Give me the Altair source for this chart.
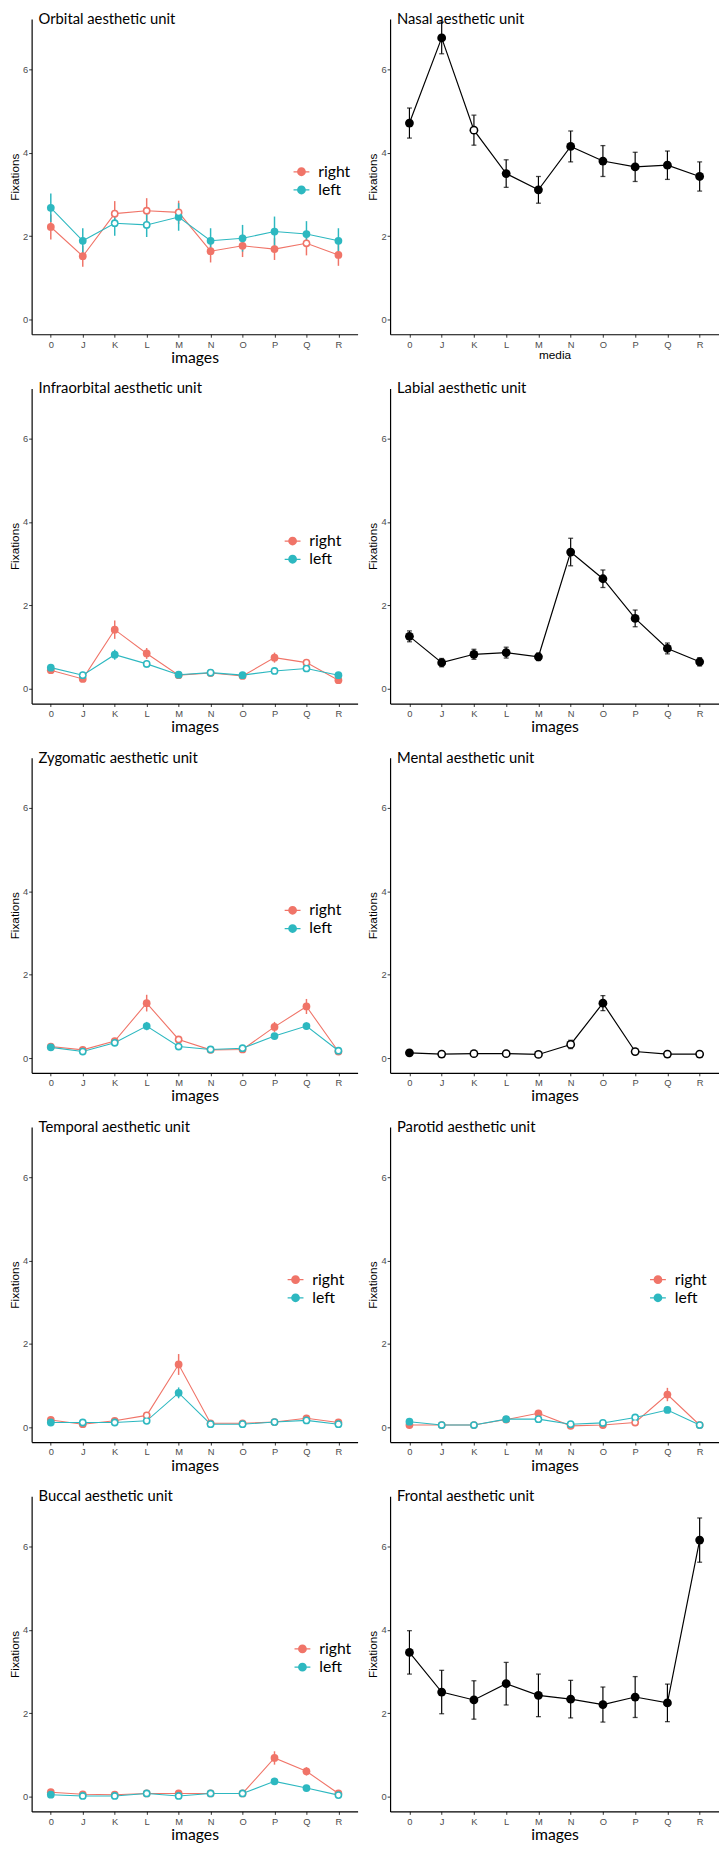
import altair as alt
import pandas as pd

IMAGES = ["0", "J", "K", "L", "M", "N", "O", "P", "Q", "R"]
SIDES = ["right", "left"]
SIDE_COLORS = ["#F07468", "#2DB8C0"]

ORB_R = [2.22, 1.52, 2.54, 2.61, 2.57, 1.64, 1.77, 1.69, 1.83, 1.55]
ORB_R_SE = [0.30, 0.25, 0.30, 0.30, 0.28, 0.27, 0.27, 0.26, 0.29, 0.26]
ORB_R_OPEN = [0, 0, 1, 1, 1, 0, 0, 0, 1, 0]
ORB_L = [2.68, 1.89, 2.31, 2.27, 2.46, 1.89, 1.95, 2.11, 2.05, 1.89]
ORB_L_SE = [0.34, 0.30, 0.30, 0.29, 0.33, 0.30, 0.32, 0.36, 0.31, 0.30]
ORB_L_OPEN = [0, 0, 1, 1, 0, 0, 0, 0, 0, 0]

INF_R = [0.45, 0.24, 1.42, 0.85, 0.33, 0.38, 0.31, 0.75, 0.63, 0.21]
INF_R_SE = [0.05, 0.04, 0.22, 0.13, 0.04, 0.04, 0.04, 0.12, 0.06, 0.04]
INF_R_OPEN = [0, 0, 0, 0, 0, 0, 0, 0, 1, 0]
INF_L = [0.51, 0.33, 0.82, 0.60, 0.34, 0.39, 0.33, 0.43, 0.49, 0.33]
INF_L_SE = [0.05, 0.08, 0.12, 0.09, 0.04, 0.05, 0.04, 0.05, 0.06, 0.05]
INF_L_OPEN = [0, 1, 0, 1, 0, 1, 0, 1, 1, 0]

ZYG_R = [0.28, 0.20, 0.41, 1.32, 0.45, 0.20, 0.21, 0.75, 1.24, 0.16]
ZYG_R_SE = [0.04, 0.03, 0.06, 0.20, 0.06, 0.03, 0.03, 0.12, 0.18, 0.03]
ZYG_R_OPEN = [0, 0, 0, 0, 1, 0, 0, 0, 0, 0]
ZYG_L = [0.26, 0.16, 0.37, 0.77, 0.28, 0.21, 0.24, 0.53, 0.77, 0.18]
ZYG_L_SE = [0.04, 0.03, 0.05, 0.10, 0.04, 0.03, 0.04, 0.07, 0.09, 0.03]
ZYG_L_OPEN = [0, 1, 1, 0, 1, 1, 1, 0, 0, 1]

TEM_R = [0.18, 0.08, 0.16, 0.29, 1.51, 0.10, 0.10, 0.13, 0.22, 0.12]
TEM_R_SE = [0.04, 0.02, 0.03, 0.05, 0.25, 0.02, 0.02, 0.03, 0.05, 0.02]
TEM_R_OPEN = [0, 0, 0, 1, 0, 0, 0, 0, 0, 0]
TEM_L = [0.12, 0.12, 0.12, 0.16, 0.83, 0.08, 0.08, 0.13, 0.17, 0.08]
TEM_L_SE = [0.03, 0.02, 0.02, 0.03, 0.13, 0.02, 0.02, 0.03, 0.03, 0.02]
TEM_L_OPEN = [0, 1, 1, 1, 0, 1, 1, 1, 1, 1]

BUC_R = [0.11, 0.06, 0.05, 0.08, 0.08, 0.08, 0.08, 0.93, 0.61, 0.08]
BUC_R_SE = [0.03, 0.02, 0.02, 0.02, 0.02, 0.02, 0.02, 0.16, 0.10, 0.02]
BUC_R_OPEN = [0, 0, 0, 0, 0, 0, 0, 0, 0, 0]
BUC_L = [0.05, 0.02, 0.02, 0.08, 0.02, 0.08, 0.08, 0.37, 0.21, 0.04]
BUC_L_SE = [0.02, 0.01, 0.01, 0.02, 0.01, 0.02, 0.02, 0.05, 0.04, 0.01]
BUC_L_OPEN = [0, 1, 1, 1, 1, 1, 1, 0, 0, 1]

PAR_R = [0.06, 0.06, 0.06, 0.19, 0.34, 0.04, 0.06, 0.12, 0.79, 0.06]
PAR_R_SE = [0.02, 0.02, 0.02, 0.04, 0.05, 0.02, 0.02, 0.03, 0.16, 0.02]
PAR_R_OPEN = [0, 0, 0, 0, 0, 0, 0, 1, 0, 0]
PAR_L = [0.14, 0.06, 0.06, 0.20, 0.20, 0.08, 0.11, 0.24, 0.42, 0.06]
PAR_L_SE = [0.03, 0.02, 0.02, 0.04, 0.04, 0.02, 0.03, 0.04, 0.06, 0.02]
PAR_L_OPEN = [0, 1, 1, 0, 1, 1, 1, 1, 0, 1]

NAS = [4.71, 6.75, 4.54, 3.50, 3.11, 4.15, 3.80, 3.66, 3.70, 3.43]
NAS_SE = [0.36, 0.38, 0.36, 0.33, 0.32, 0.37, 0.37, 0.35, 0.34, 0.35]
NAS_OPEN = [0, 0, 1, 0, 0, 0, 0, 0, 0, 0]

LAB = [1.26, 0.63, 0.83, 0.87, 0.77, 3.28, 2.64, 1.69, 0.97, 0.65]
LAB_SE = [0.13, 0.10, 0.12, 0.13, 0.09, 0.33, 0.21, 0.20, 0.13, 0.10]
LAB_OPEN = [0, 0, 0, 0, 0, 0, 0, 0, 0, 0]

MEN = [0.13, 0.10, 0.11, 0.11, 0.09, 0.33, 1.32, 0.16, 0.10, 0.10]
MEN_SE = [0.02, 0.01, 0.01, 0.01, 0.01, 0.10, 0.18, 0.02, 0.01, 0.01]
MEN_OPEN = [0, 1, 1, 1, 1, 1, 0, 1, 1, 1]

FRO = [3.46, 2.51, 2.32, 2.71, 2.43, 2.34, 2.21, 2.39, 2.25, 6.15]
FRO_SE = [0.52, 0.52, 0.46, 0.51, 0.51, 0.45, 0.42, 0.49, 0.45, 0.53]
FRO_OPEN = [0, 0, 0, 0, 0, 0, 0, 0, 0, 0]

LEFT_W = 331
RIGHT_W = 334
PANEL_H = 320
Y_DOMAIN = [-0.35, 7.2]

LEGEND_PATH = ("M-1.8,-0.14H1.8V0.14H-1.8Z "
               "M1,0A1,1,0,1,1,-1,0A1,1,0,1,1,1,0Z")


def frame(mean, se, opn, side="all"):
    return pd.DataFrame({
        "image": IMAGES,
        "mean": mean,
        "lo": [m - s for m, s in zip(mean, se)],
        "hi": [m + s for m, s in zip(mean, se)],
        "open": opn,
        "side": side,
    })


def x_enc(xtitle, big=True):
    return alt.X(
        "image:O",
        scale=alt.Scale(type="point", domain=IMAGES, padding=0.6),
        axis=alt.Axis(
            title=xtitle, labelAngle=0, labelPadding=2, titlePadding=1,
            titleFont="Lato" if big else "Liberation Sans",
            titleFontSize=16 if big else 12,
            titleFontWeight="normal", titleColor="black",
        ),
    )


Y_AXIS = alt.Axis(title="Fixations", values=[0, 2, 4, 6], titleFont="Liberation Sans",
                  titleFontSize=12, titleFontWeight="normal", titleColor="black",
                  titlePadding=1, labelPadding=1)


def y_enc(field="mean"):
    return alt.Y(f"{field}:Q", scale=alt.Scale(domain=Y_DOMAIN, nice=False, zero=False),
                 axis=Y_AXIS)


def title_layer(text):
    return alt.Chart(pd.DataFrame({"t": [text]})).mark_text(
        align="left", baseline="alphabetic", font="Lato", fontSize=15, color="black"
    ).encode(text="t:N", x=alt.value(7), y=alt.value(5))


def two_side_panel(title, rm, rse, ro, lm, lse, lo, width, legend_x):
    df = pd.concat([frame(rm, rse, ro, "right"), frame(lm, lse, lo, "left")],
                   ignore_index=True)
    base = alt.Chart(df)
    x = x_enc("images")
    cscale = alt.Scale(domain=SIDES, range=SIDE_COLORS)
    leg = alt.Legend(title=None, orient="none", legendX=legend_x, legendY=147,
                     direction="vertical", symbolType=LEGEND_PATH, symbolSize=80,
                     symbolStrokeWidth=0, symbolOpacity=1,
                     labelFont="Lato", labelFontSize=16, labelColor="black",
                     labelOffset=9, rowPadding=2.5, padding=0)
    col = alt.Color("side:N", scale=cscale, legend=leg)
    line = base.mark_line(strokeWidth=1.1).encode(x=x, y=y_enc(), color=col)
    bars = base.mark_rule(strokeWidth=1.5).encode(x=x, y=y_enc("lo"), y2="hi:Q", color=col)
    pts = base.mark_circle(size=62, opacity=1).encode(x=x, y=y_enc(), color=col)
    holes = base.transform_filter("datum.open == 1").mark_circle(
        size=22, opacity=1, color="white").encode(x=x, y=y_enc())
    return alt.layer(line, bars, pts, holes, title_layer(title)).properties(
        width=width, height=PANEL_H)


def single_panel(title, m, se, o, xtitle="images", big=True):
    df = frame(m, se, o)
    base = alt.Chart(df)
    x = x_enc(xtitle, big)
    line = base.mark_line(strokeWidth=1.2, color="black").encode(x=x, y=y_enc())
    bars = base.mark_rule(strokeWidth=1.2, color="black").encode(
        x=x, y=y_enc("lo"), y2="hi:Q")
    cap_lo = base.mark_tick(size=5, thickness=1.3, color="black").encode(
        x=x, y=y_enc("lo"))
    cap_hi = base.mark_tick(size=5, thickness=1.3, color="black").encode(
        x=x, y=y_enc("hi"))
    pts = base.mark_circle(size=80, opacity=1, color="black").encode(x=x, y=y_enc())
    holes = base.transform_filter("datum.open == 1").mark_circle(
        size=34, opacity=1, color="white").encode(x=x, y=y_enc())
    return alt.layer(line, bars, cap_lo, cap_hi, pts, holes, title_layer(title)).properties(
        width=RIGHT_W, height=PANEL_H)


rows = [
    (two_side_panel("Orbital aesthetic unit", ORB_R, ORB_R_SE, ORB_R_OPEN,
                    ORB_L, ORB_L_SE, ORB_L_OPEN, LEFT_W, 266),
     single_panel("Nasal aesthetic unit", NAS, NAS_SE, NAS_OPEN, "media", False)),
    (two_side_panel("Infraorbital aesthetic unit", INF_R, INF_R_SE, INF_R_OPEN,
                    INF_L, INF_L_SE, INF_L_OPEN, LEFT_W, 257),
     single_panel("Labial aesthetic unit", LAB, LAB_SE, LAB_OPEN)),
    (two_side_panel("Zygomatic aesthetic unit", ZYG_R, ZYG_R_SE, ZYG_R_OPEN,
                    ZYG_L, ZYG_L_SE, ZYG_L_OPEN, LEFT_W, 257),
     single_panel("Mental aesthetic unit", MEN, MEN_SE, MEN_OPEN)),
    (two_side_panel("Temporal  aesthetic unit", TEM_R, TEM_R_SE, TEM_R_OPEN,
                    TEM_L, TEM_L_SE, TEM_L_OPEN, LEFT_W, 260),
     two_side_panel("Parotid aesthetic unit", PAR_R, PAR_R_SE, PAR_R_OPEN,
                    PAR_L, PAR_L_SE, PAR_L_OPEN, RIGHT_W, 264)),
    (two_side_panel("Buccal aesthetic unit", BUC_R, BUC_R_SE, BUC_R_OPEN,
                    BUC_L, BUC_L_SE, BUC_L_OPEN, LEFT_W, 267),
     single_panel("Frontal aesthetic unit", FRO, FRO_SE, FRO_OPEN)),
]

hrows = [
    alt.hconcat(a, b, spacing=9).resolve_scale(
        x="independent", y="independent", color="independent"
    ).resolve_legend(color="independent")
    for a, b in rows
]

chart = alt.vconcat(*hrows, spacing=16).resolve_scale(
    x="independent", y="independent", color="independent"
).resolve_legend(color="independent").properties(
    padding={"left": 0, "top": -10, "right": 0, "bottom": 0}
).configure_view(
    stroke=None
).configure_axis(
    grid=False, domainColor="black", domainWidth=1.2, tickColor="#333333", tickSize=3,
    tickWidth=1, labelFont="Liberation Sans", labelFontSize=9.5, labelColor="#4d4d4d",
)

chart.save("out.html", embed_options={"renderer": "svg", "actions": False})
